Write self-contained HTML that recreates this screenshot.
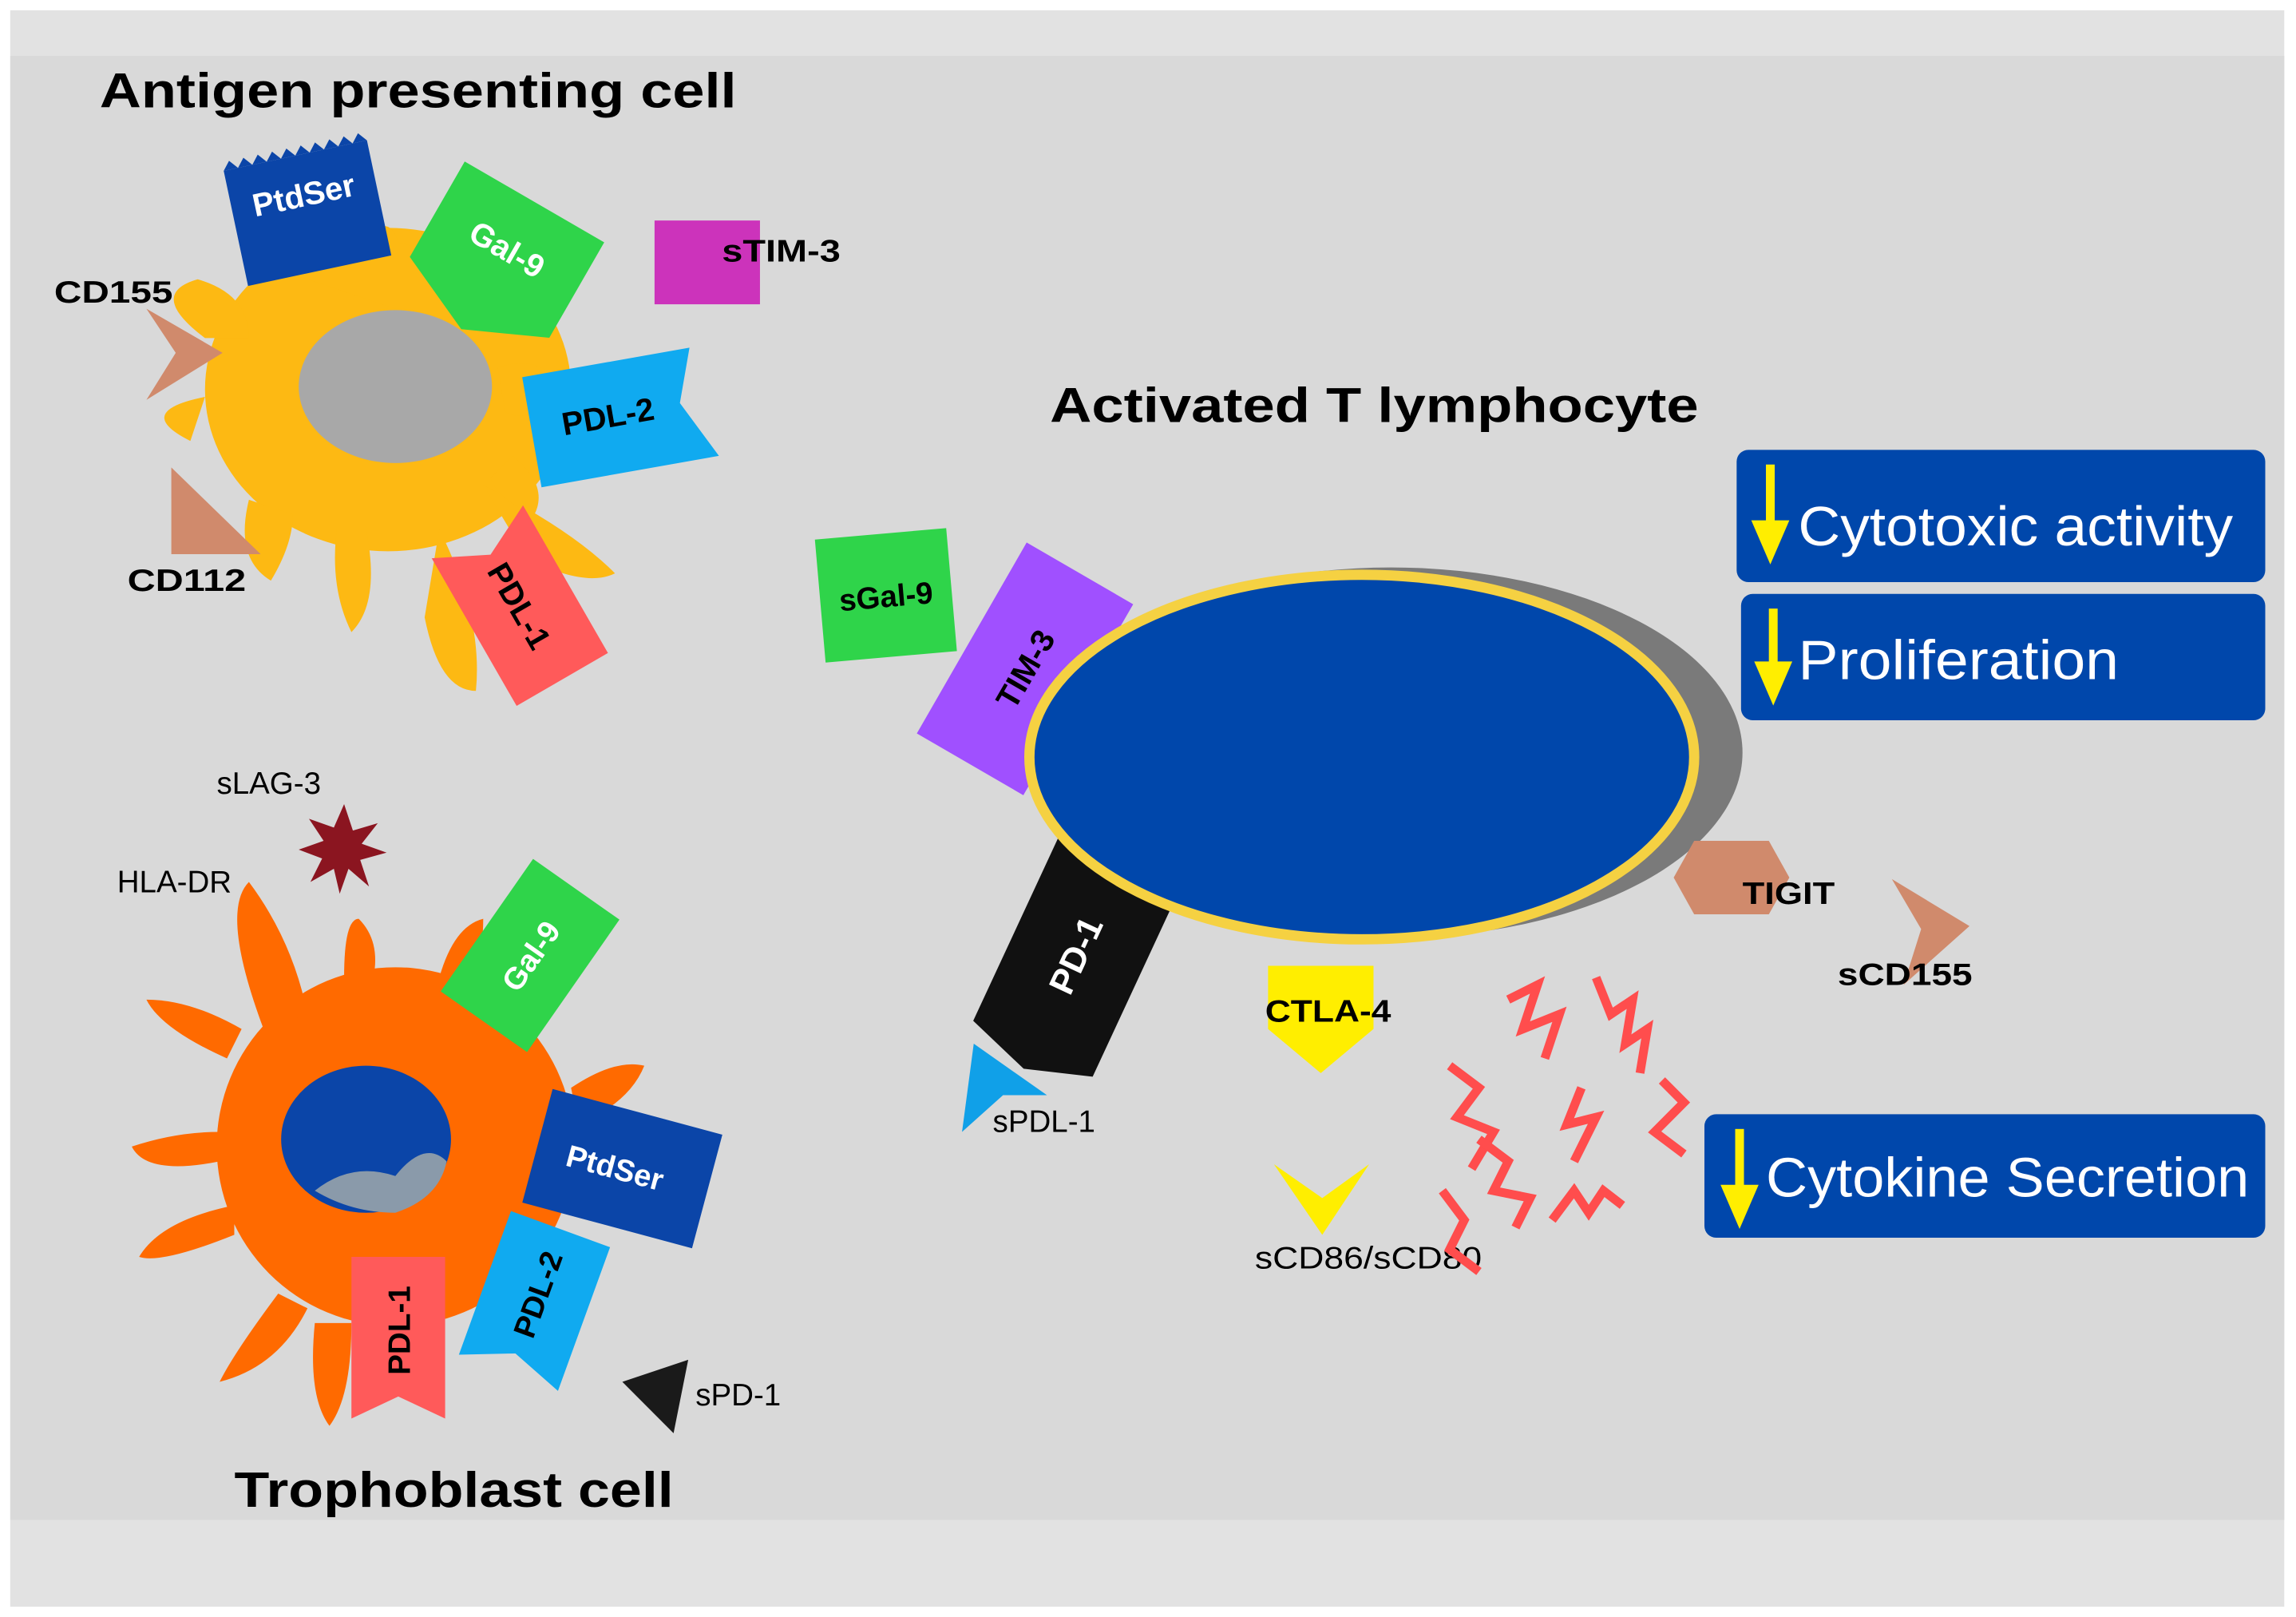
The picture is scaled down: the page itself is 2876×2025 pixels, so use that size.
<!DOCTYPE html>
<html><head><meta charset="utf-8"><style>
html,body{margin:0;padding:0;background:#fff;}
svg{display:block;}
text{font-family:"Liberation Sans",sans-serif;}
.b{font-weight:bold;}
</style></head><body>
<svg width="2876" height="2025" viewBox="0 0 1568 1100" preserveAspectRatio="none" xmlns="http://www.w3.org/2000/svg">
<rect x="0" y="0" width="1568" height="1100" fill="#fff"/>
<rect x="7" y="7" width="1553" height="1086" fill="#e2e2e2"/>
<rect x="7" y="38" width="1553" height="996" fill="#d9d9d9"/>

<text x="68" y="73" font-size="33" class="b" textLength="435" lengthAdjust="spacingAndGlyphs">Antigen presenting cell</text>

<g fill="#fdb913">
<ellipse cx="265" cy="265" rx="125" ry="110"/>
<path d="M180 180 Q150 150 185 140 Q230 150 240 170 Q265 140 272 165 Q300 170 330 200 L300 220Z"/>
<path d="M140 230 Q100 200 135 190 Q170 200 170 230Z"/>
<path d="M130 300 Q90 280 140 270Z"/>
<path d="M330 330 Q390 360 420 390 Q400 400 360 380Z"/>
<path d="M300 360 Q330 420 325 470 Q300 470 290 420Z"/>
<path d="M250 360 Q260 410 240 430 Q225 400 230 360Z"/>
<path d="M170 340 Q160 380 185 395 Q200 370 200 350Z"/>
<path d="M340 250 Q370 240 385 265 Q360 290 345 280Z"/>
<path d="M350 310 Q375 330 365 350 Q340 340 335 325Z"/>
</g>
<ellipse cx="270" cy="263" rx="66" ry="52" fill="#a8a8a8"/>

<g transform="translate(210,145) rotate(-12)"><path d="M-50 -40 L50 -40 L50 40 L-50 40Z" fill="#0b45a8"/><path d="M-50 -40 l5 -6 l5 6 l5 -6 l5 6 l5 -6 l5 6 l5 -6 l5 6 l5 -6 l5 6 l5 -6 l5 6 l5 -6 l5 6 l5 -6 l5 6 l5 -6 l5 6 l5 -6 l5 6Z" fill="#0b45a8"/><text x="0" y="-5" font-size="22" fill="#fff" class="b" text-anchor="middle">PtdSer</text></g>
<g transform="translate(345,172) rotate(30)"><path d="M-55 -40 L55 -40 L55 35 L0 60 L-55 35Z" fill="#2fd44a"/><text x="0" y="5" font-size="22" fill="#fff" class="b" text-anchor="middle">Gal-9</text></g>
<rect x="447" y="150" width="72" height="57" fill="#cc33bb"/>
<text x="493" y="178" font-size="21" class="b" textLength="81" lengthAdjust="spacingAndGlyphs">sTIM-3</text>
<text x="37" y="206" font-size="21" class="b" textLength="81" lengthAdjust="spacingAndGlyphs">CD155</text>
<path d="M100 210 L152 240 L100 272 L120 240Z" fill="#d08a6c"/>
<path d="M117 318 L117 377 L178 377Z" fill="#d08a6c"/>
<text x="87" y="402" font-size="21" class="b" textLength="81" lengthAdjust="spacingAndGlyphs">CD112</text>
<g transform="translate(420,282) rotate(-10)"><path d="M-58 -36 L58 -36 L45 0 L65 40 L-58 40Z" fill="#10aaf0"/><text x="-5" y="8" font-size="22" class="b" text-anchor="middle">PDL-2</text></g>
<g transform="translate(355,412) rotate(60)"><path d="M-58 -36 L58 -36 L58 36 L-58 36 L-40 0Z" fill="#ff5a5a"/><text x="0" y="8" font-size="22" class="b" text-anchor="middle">PDL-1</text></g>

<text x="148" y="540" font-size="21">sLAG-3</text>
<polygon points="235,547 241,565 258,560 247,574 264,580 246,585 252,603 238,591 232,608 228,591 212,600 220,584 204,578 221,572 211,557 228,563" fill="#8b1520"/>
<text x="80" y="607" font-size="21">HLA-DR</text>

<g fill="#ff6a00">
<circle cx="270" cy="780" r="122"/>
<path d="M180 700 Q150 620 170 600 Q200 640 210 690Z"/>
<path d="M235 665 Q235 625 245 625 Q260 640 255 665Z"/>
<path d="M300 665 Q310 630 330 625 Q330 660 315 680Z"/>
<path d="M155 720 Q110 700 100 680 Q130 680 165 700Z"/>
<path d="M150 790 Q100 800 90 780 Q120 770 150 770Z"/>
<path d="M160 840 Q110 860 95 855 Q110 830 160 820Z"/>
<path d="M190 880 Q160 920 150 940 Q190 930 210 890Z"/>
<path d="M215 900 Q210 950 225 970 Q240 950 240 900Z"/>
<path d="M390 740 Q420 720 440 725 Q430 750 395 765Z"/>
</g>
<ellipse cx="250" cy="775" rx="58" ry="50" fill="#0b45a8"/>
<path d="M215 810 Q240 790 270 800 Q290 775 305 790 Q300 815 270 825 Q240 825 215 810Z" fill="#8a9aaa"/>
<g transform="translate(362,650) rotate(-55)"><path d="M-55 -36 L55 -36 L55 36 L-55 36Z" fill="#2fd44a"/><text x="0" y="8" font-size="21" fill="#fff" class="b" text-anchor="middle">Gal-9</text></g>
<g transform="translate(425,795) rotate(15)"><path d="M-60 -40 L60 -40 L60 40 L-60 40Z" fill="#0b45a8"/><text x="-5" y="8" font-size="21" fill="#fff" class="b" text-anchor="middle">PtdSer</text></g>
<g transform="translate(365,885) rotate(-70)"><path d="M-52 -36 L52 -36 L52 36 L-52 36 L-38 0Z" fill="#10aaf0"/><text x="5" y="8" font-size="21" class="b" text-anchor="middle">PDL-2</text></g>
<g transform="translate(272,910) rotate(-90)"><path d="M-55 -32 L55 -32 L55 32 L-55 32 L-40 0Z" fill="#ff5a5a"/><text x="5" y="8" font-size="21" class="b" text-anchor="middle">PDL-1</text></g>
<path d="M425 940 L470 925 L460 975Z" fill="#1a1a1a"/>
<text x="475" y="956" font-size="21">sPD-1</text>
<text x="160" y="1025" font-size="34" class="b" textLength="300" lengthAdjust="spacingAndGlyphs">Trophoblast cell</text>

<text x="717" y="287" font-size="33" class="b" textLength="443" lengthAdjust="spacingAndGlyphs">Activated T lymphocyte</text>
<g transform="translate(605,405) rotate(-5)"><rect x="-45" y="-42" width="90" height="84" fill="#2fd44a"/><text x="0" y="8" font-size="21" class="b" text-anchor="middle">sGal-9</text></g>
<g transform="translate(700,455) rotate(-60)"><rect x="-75" y="-42" width="150" height="84" fill="#a050ff"/><text x="0" y="8" font-size="22" class="b" text-anchor="middle">TIM-3</text></g>
<g transform="translate(735,650) rotate(-65)"><path d="M-70 -45 L70 -45 L70 45 L-70 45 L-85 0Z" fill="#111"/><text x="0" y="8" font-size="24" fill="#fff" class="b" text-anchor="middle">PD-1</text></g>
<ellipse cx="950" cy="512" rx="240" ry="126" fill="#7a7a7a"/>
<ellipse cx="930" cy="515" rx="227" ry="124" fill="#0047ab" stroke="#f5d142" stroke-width="7"/>
<path d="M657 770 L665 710 L715 745 L685 745Z" fill="#10a0e8"/>
<text x="678" y="770" font-size="21">sPDL-1</text>
<path d="M866 657 L938 657 L938 700 L902 730 L866 700Z" fill="#ffee00"/>
<text x="864" y="695" font-size="21" class="b" textLength="86" lengthAdjust="spacingAndGlyphs">CTLA-4</text>
<path d="M870 792 L903 815 L935 792 L903 840Z" fill="#ffee00"/>
<text x="857" y="863" font-size="21" textLength="155" lengthAdjust="spacingAndGlyphs">sCD86/sCD80</text>
<polygon points="1143,597 1157,572 1208,572 1222,597 1208,622 1157,622" fill="#d08a6c"/>
<text x="1190" y="615" font-size="21" class="b" textLength="63" lengthAdjust="spacingAndGlyphs">TIGIT</text>
<path d="M1292 598 L1345 630 L1300 670 L1312 632Z" fill="#d08a6c"/>
<text x="1255" y="670" font-size="21" class="b" textLength="92" lengthAdjust="spacingAndGlyphs">sCD155</text>

<g fill="none" stroke="#ff4d4d" stroke-width="6">
<polyline points="1030,680 1050,670 1040,700 1065,690 1055,720"/>
<polyline points="1090,665 1100,690 1115,680 1110,710 1125,700 1120,730"/>
<polyline points="990,725 1010,740 995,760 1020,770 1005,795"/>
<polyline points="1080,740 1070,765 1090,760 1075,790"/>
<polyline points="1135,735 1150,750 1130,770 1150,785"/>
<polyline points="1010,775 1030,790 1020,810 1045,815 1035,835"/>
<polyline points="985,810 1000,830 990,850 1010,865"/>
<polyline points="1060,830 1075,810 1085,825 1095,810 1108,820"/>
</g>

<g>
<rect x="1186" y="306" width="361" height="90" rx="8" fill="#0047ab"/>
<rect x="1206" y="316" width="6" height="42" fill="#ffee00"/><path d="M1196 354 L1222 354 L1209 384Z" fill="#ffee00"/>
<text x="1228" y="371" font-size="38" fill="#fff" textLength="297" lengthAdjust="spacingAndGlyphs">Cytotoxic activity</text>
<rect x="1189" y="404" width="358" height="86" rx="8" fill="#0047ab"/>
<rect x="1208" y="414" width="6" height="38" fill="#ffee00"/><path d="M1198 450 L1224 450 L1211 480Z" fill="#ffee00"/>
<text x="1228" y="462" font-size="38" fill="#fff" textLength="219" lengthAdjust="spacingAndGlyphs">Proliferation</text>
<rect x="1164" y="758" width="383" height="84" rx="8" fill="#0047ab"/>
<rect x="1185" y="768" width="6" height="40" fill="#ffee00"/><path d="M1175 806 L1201 806 L1188 836Z" fill="#ffee00"/>
<text x="1206" y="814" font-size="38" fill="#fff" textLength="330" lengthAdjust="spacingAndGlyphs">Cytokine Secretion</text>
</g>
</svg>
</body></html>
